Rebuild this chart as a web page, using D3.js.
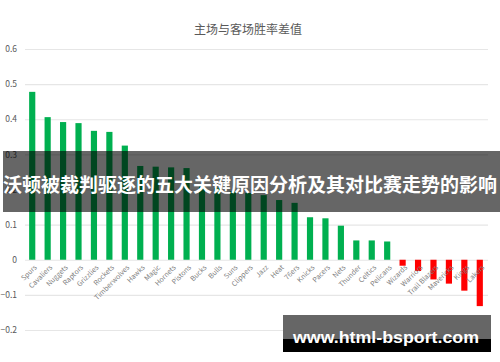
<!DOCTYPE html>
<html>
<head>
<meta charset="utf-8">
<script src="https://cdn.jsdelivr.net/npm/d3@7"></script>
<style>
  html, body { margin: 0; padding: 0; background: #fff; }
  svg { display: block; }
</style>
</head>
<body>
<svg id="chart" width="500" height="362"></svg>
<script>
// Home minus away win-rate difference per team
const teams = ["Spurs","Cavaliers","Nuggets","Raptors","Grizzlies","Rockets","Timberwolves","Hawks","Magic","Hornets","Pistons","Bucks","Bulls","Suns","Clippers","Jazz","Heat","76ers","Knicks","Pacers","Nets","Thunder","Celtics","Pelicans","Wizards","Warriors","Trail Blazers","Mavericks","Kings","Lakers"];
const diffs = [0.478,0.406,0.392,0.389,0.367,0.364,0.325,0.267,0.265,0.263,0.261,0.215,0.205,0.195,0.190,0.184,0.170,0.162,0.121,0.118,0.097,0.055,0.055,0.052,-0.017,-0.032,-0.056,-0.068,-0.088,-0.132];
const yTicks = [0.6,0.5,0.4,0.3,0.2,0.1,0,-0.1,-0.2];
const titleText = "主场与客场胜率差值";
const bannerText = "沃顿被裁判驱逐的五大关键原因分析及其对比赛走势的影响";
const siteText = "www.html-bsport.com";

const svg = d3.select("#chart");
const font = "'Noto Sans CJK SC', 'Open Sans', sans-serif";

const x = d3.scaleBand().domain(teams).range([24.5, 487.5]).paddingInner(0.6).paddingOuter(0.3);
const y = d3.scaleLinear().domain([-0.2, 0.6]).range([330, 49]);

// title
svg.append("text")
  .attr("x", 248).attr("y", 34)
  .attr("text-anchor", "middle")
  .attr("font-family", font).attr("font-size", 12)
  .attr("fill", "#595959")
  .text(titleText);

// horizontal grid
const yAxis = d3.axisLeft(y).tickValues(yTicks).tickSize(-(488 - 25)).tickFormat(d => d === 0 ? "0" : d3.format("")(d));
const gy = svg.append("g").attr("transform", "translate(25,0)").call(yAxis);
gy.select(".domain").remove();
gy.selectAll(".tick line").attr("stroke", "#e6e6e6").attr("stroke-width", 1.2);
gy.selectAll(".tick text")
  .attr("x", -8)
  .attr("font-family", font).attr("font-size", 8.5)
  .attr("fill", "#595959");

// bars
svg.append("g").selectAll("rect")
  .data(teams.map((t, i) => ({ t, v: diffs[i] })))
  .join("rect")
  .attr("x", d => x(d.t))
  .attr("width", x.bandwidth())
  .attr("y", d => y(Math.max(0, d.v)))
  .attr("height", d => Math.abs(y(d.v) - y(0)))
  .attr("fill", d => d.v >= 0 ? "#00b050" : "#ff0000");

// rotated category labels
const xAxis = d3.axisBottom(x).tickSize(0);
const gx = svg.append("g").attr("transform", `translate(0,${y(0)})`).call(xAxis);
gx.select(".domain").remove();
gx.selectAll(".tick text")
  .attr("font-family", font).attr("font-size", 7)
  .attr("fill", "#7f7f7f")
  .attr("text-anchor", "end")
  .attr("dy", 0)
  .attr("transform", "translate(3,6) rotate(-45)");

// headline banner
svg.append("rect")
  .attr("x", 3).attr("y", 151).attr("width", 497).attr("height", 61)
  .attr("fill", "#000").attr("fill-opacity", 0.6);
svg.append("text")
  .attr("x", 250).attr("y", 192)
  .attr("text-anchor", "middle")
  .attr("font-family", font).attr("font-weight", "bold").attr("font-size", 19)
  .attr("textLength", 494).attr("lengthAdjust", "spacingAndGlyphs")
  .attr("fill", "#fff")
  .text(bannerText);

// site tag
svg.append("rect").attr("x", 283).attr("y", 315).attr("width", 208).attr("height", 24).attr("fill", "#666");
svg.append("rect").attr("x", 283).attr("y", 339).attr("width", 208).attr("height", 13).attr("fill", "#000");
svg.append("text")
  .attr("x", 386).attr("y", 343)
  .attr("text-anchor", "middle")
  .attr("font-family", "'Liberation Sans', Arial, sans-serif").attr("font-weight", "bold").attr("font-size", 17)
  .attr("textLength", 186).attr("lengthAdjust", "spacingAndGlyphs")
  .attr("fill", "#fff")
  .text(siteText);
</script>
</body>
</html>
